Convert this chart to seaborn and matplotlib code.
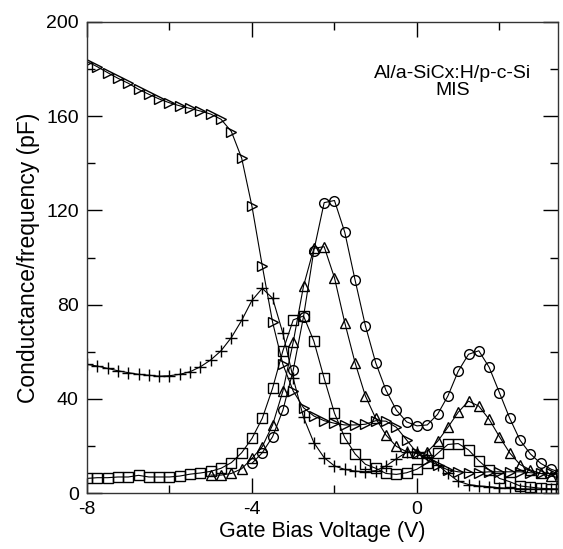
import matplotlib
matplotlib.use("Agg")
import matplotlib.pyplot as plt
import seaborn as sns
import pandas as pd
from matplotlib.ticker import MultipleLocator

# ---------------- data ----------------
voltage = [-8.0, -7.75, -7.5, -7.25, -7.0, -6.75, -6.5, -6.25, -6.0, -5.75,
           -5.5, -5.25, -5.0, -4.75, -4.5, -4.25, -4.0, -3.75, -3.5, -3.25,
           -3.0, -2.75, -2.5, -2.25, -2.0, -1.75, -1.5, -1.25, -1.0, -0.75,
           -0.5, -0.25, 0.0, 0.25, 0.5, 0.75, 1.0, 1.25, 1.5, 1.75,
           2.0, 2.25, 2.5, 2.75, 3.0, 3.25, 3.5]

g_tri_right = [183.2, 181.0, 178.5, 176.1, 174.0, 171.4, 169.3, 167.3, 165.7, 164.4,
               163.3, 162.2, 160.9, 158.7, 153.5, 142.2, 121.7, 96.4, 72.5, 54.6,
               43.3, 36.2, 32.7, 30.7, 29.6, 28.9, 28.9, 29.2, 30.7, 30.5,
               27.9, 22.5, 17.0, 14.0, 11.9, 9.8, 9.0, 8.7, 8.7, 9.0,
               9.0, 9.0, 9.0, 8.6, 8.3, 8.3, 8.0]

g_plus = [54.6, 53.9, 52.9, 51.9, 51.1, 50.4, 50.0, 49.6, 49.8, 50.4,
          51.5, 53.6, 56.5, 60.4, 66.0, 73.3, 81.8, 86.9, 82.7, 67.8,
          48.7, 32.1, 21.4, 15.0, 11.5, 10.0, 9.3, 9.0, 9.5, 11.5,
          14.5, 17.3, 17.5, 16.3, 12.0, 8.3, 5.0, 3.6, 3.0, 2.7,
          2.2, 2.0, 1.8, 1.7, 1.6, 1.5, 1.5]

g_square = [6.2, 6.5, 6.5, 6.8, 6.8, 7.5, 6.8, 6.8, 6.8, 7.2,
            8.0, 8.5, 9.2, 10.5, 12.9, 17.1, 23.2, 31.7, 44.5, 60.4,
            73.5, 75.2, 64.5, 48.7, 33.9, 23.5, 16.6, 12.2, 10.5, 8.3,
            7.9, 8.6, 10.1, 12.9, 16.8, 20.6, 21.0, 18.3, 13.7, 9.8,
            6.2, 4.8, 3.0, 2.5, 2.0, 1.8, 1.7]

g_tri_up = [7.6, 7.6, 8.3, 10.3, 14.7, 19.7, 28.9, 43.3, 64.1, 87.9,
            103.9, 104.6, 91.4, 72.3, 55.3, 41.2, 31.7, 24.6, 19.8, 17.5,
            16.8, 17.5, 21.9, 27.9, 34.3, 39.0, 36.9, 31.3, 23.9, 17.0,
            12.1, 9.8, 8.3, 7.2, 6.2]          # from -5.0 V

g_circle = [12.6, 17.1, 23.9, 35.2, 52.2, 74.9, 102.9, 123.3, 124.2, 110.7,
            90.4, 71.0, 55.3, 43.6, 35.2, 30.2, 28.5, 28.9, 33.4, 41.2,
            51.7, 58.9, 60.4, 53.4, 42.6, 31.7, 22.4, 16.6, 12.6, 10.1, 8.6]  # from -4.0 V

x_ticks = [-8, -4, 0]
y_ticks = [0, 40, 80, 120, 160, 200]
annotation = "Al/a-SiCx:H/p-c-Si\nMIS"

# ---------------- figure ----------------
sns.set_theme(style="ticks")
plt.rcParams["font.family"] = ["Liberation Sans", "DejaVu Sans"]
plt.rcParams["axes.unicode_minus"] = False
plt.rcParams["text.color"] = "black"
plt.rcParams["axes.labelcolor"] = "black"
plt.rcParams["xtick.labelcolor"] = "black"
plt.rcParams["ytick.labelcolor"] = "black"

fig = plt.figure(figsize=(5.63, 5.49), dpi=100)
ax = fig.add_axes([87 / 563, 1 - 493 / 549, (558 - 87) / 563, (493 - 22) / 549])

series = [
    (voltage, g_tri_right, ">", 7.0),
    (voltage, g_plus, "+", 8.5),
    (voltage, g_square, "s", 6.5),
    (voltage[12:], g_tri_up, "^", 7.0),
    (voltage[16:], g_circle, "o", 7.0),
]

for xs, ys, mk, ms in series:
    df = pd.DataFrame({"V": xs, "G": ys})
    sns.lineplot(data=df, x="V", y="G", ax=ax, color="black", linewidth=0.8,
                 marker=mk, markersize=ms, markerfacecolor="none",
                 markeredgecolor="black", markeredgewidth=1.0, sort=False,
                 legend=False)

ax.set_xlim(-8, 3.42)
ax.set_ylim(0, 200)
ax.set_xticks(x_ticks)
ax.set_yticks(y_ticks)
ax.xaxis.set_minor_locator(MultipleLocator(2))
ax.yaxis.set_minor_locator(MultipleLocator(20))
ax.tick_params(which="both", direction="in", top=True, right=True,
               color="black", width=1.0)
ax.tick_params(which="major", length=11, labelsize=14, pad=6)
ax.tick_params(which="minor", length=6)
for s in ax.spines.values():
    s.set_color("#333333")
    s.set_linewidth(1.0)

ax.set_xlabel("Gate Bias Voltage (V)", fontsize=15.5, labelpad=2)
ax.set_ylabel("Conductance/frequency (pF)", fontsize=16.5, labelpad=4)

ax.text(0.86, 174.5, annotation, ha="center", va="center", fontsize=14,
        linespacing=0.95)

fig.savefig("out.png", dpi=100)
